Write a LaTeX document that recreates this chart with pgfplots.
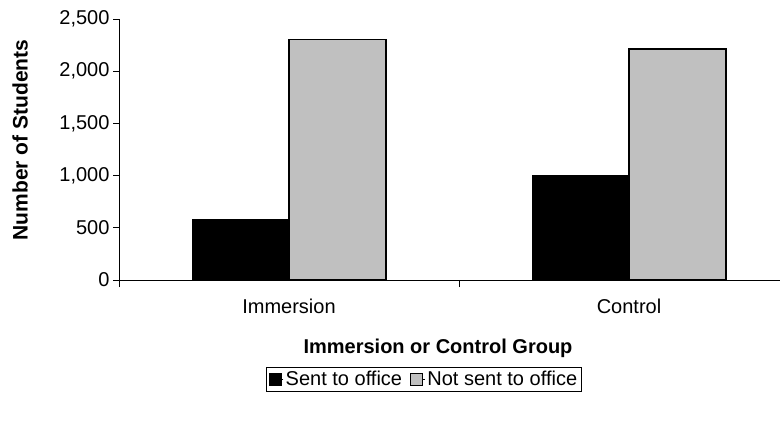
\documentclass[border=0pt]{standalone}
\usepackage{pgfplots}
\pgfplotsset{compat=1.18}
\usepackage{fontspec}
\setmainfont{Liberation Sans}
\definecolor{barGray}{HTML}{C0C0C0}
\newcommand{\chartfont}{\fontsize{20}{24}\selectfont}
\begin{document}
\begin{tikzpicture}[x=1pt,y=1pt]
\useasboundingbox (0,0) rectangle (780,421);
\begin{axis}[
  at={(119pt,141pt)}, anchor=south west,
  scale only axis, width=680pt, height=261pt,
  xmin=-0.5, xmax=1.5, ymin=0, ymax=2500,
  axis x line*=bottom, axis y line*=left,
  axis line style={draw=black, line width=0.8pt},
  ybar=0pt, bar width=97pt,
  xtick={0,1}, xticklabels={Immersion,Control},
  major x tick style={draw=none},
  minor xtick={-0.5,0.5,1.5},
  ytick={0,500,1000,1500,2000,2500},
  tick align=outside, major tick length=6pt, minor tick length=7pt,
  tick style={black, line width=0.8pt},
  ticklabel style={font=\chartfont},
  xticklabel style={yshift=-9pt},
  /pgf/number format/.cd, 1000 sep={,}, assume math mode=true, /pgfplots/.cd,
  legend style={at={(0.4485,-0.333)}, anchor=north, legend columns=2,
    draw=black, line width=0.8pt, font=\chartfont, inner sep=2pt,
    /tikz/every even column/.append style={column sep=6pt}},
  legend image code/.code={\draw[#1,draw=black,line width=1pt] (0pt,-6pt) rectangle (12pt,6pt); \path (12pt,0pt) -- (14pt,0pt);},
]
\addplot[fill=black, draw=black] coordinates {(0,580) (1,1000)};
\addplot[fill=barGray, draw=black, line width=1.6pt] coordinates {(0,2305) (1,2215)};
\legend{Sent to office,Not sent to office}
\end{axis}
\node[rotate=90, font=\bfseries\fontsize{21}{25}\selectfont] at (20,281) {Number of Students};
\node[font=\bfseries\chartfont] at (438,73) {Immersion or Control Group};
\end{tikzpicture}
\end{document}
